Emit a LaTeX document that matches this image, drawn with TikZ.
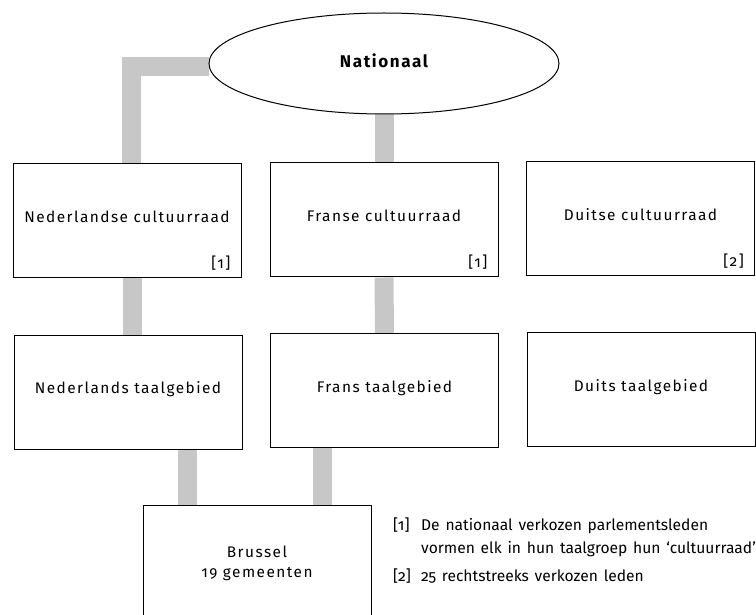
\documentclass[tikz,border=0pt]{standalone}
\usepackage{fontspec}
\setmainfont{Fira Sans}[Numbers=OldStyle]
\newfontfamily\boxfont{Fira Sans}[Numbers=OldStyle,LetterSpace=9.5]
\newfontfamily\footfont{Fira Sans}[Numbers=OldStyle,WordSpace=1.4]
\usetikzlibrary{positioning,shapes,backgrounds}

\begin{document}
\begin{tikzpicture}[x=1pt,y=-1pt,
            box/.style={draw,rectangle,fill=white,line width=1pt,minimum width=228,minimum height=114},
            nat/.style={draw,ellipse,fill=white,line width=1pt,minimum width=350,minimum height=101,text depth=5pt,font=\boxfont\bfseries\fontsize{17}{20}\selectfont},
            lab/.style={inner sep=0,anchor=base,font=\boxfont\fontsize{15.4}{18}\selectfont},
            note/.style={lab,anchor=east},
            foot/.style={inner sep=0,anchor=base west,font=\footfont\fontsize{15.6}{19}\selectfont},
            bar/.style={draw=black!22,line width=19pt}
          ]
          \useasboundingbox (0,0) rectangle (756,615);

          \node[nat] (nat) at (384,63.5) {Nationaal};

          \node[box] (ncr) at (127,221) {};
          \node[box] (fcr) at (384,220) {};
          \node[box] (dcr) at (640.5,219) {};
          \node[box] (ntg) at (128,392) {};
          \node[box] (ftg) at (384.5,390.5) {};
          \node[box] (dtg) at (641,389.5) {};
          \node[box] (bru) at (257,562) {};

          %labels
          \node[lab] at ([yshift=-1.5pt]ncr.center) {Nederlandse cultuurraad};
          \node[lab] at ([yshift=-1.5pt]fcr.center) {Franse cultuurraad};
          \node[lab] at ([yshift=-1.5pt]dcr.center) {Duitse cultuurraad};
          \node[note] at ([xshift=-11pt,yshift=15pt]ncr.south east) {[1]};
          \node[note] at ([xshift=-11pt,yshift=15pt]fcr.south east) {[1]};
          \node[note] at ([xshift=-11pt,yshift=15pt]dcr.south east) {[2]};
          \node[lab] at ([yshift=-1.5pt]ntg.center) {Nederlands taalgebied};
          \node[lab] at ([yshift=-1.5pt]ftg.center) {Frans taalgebied};
          \node[lab] at ([yshift=-1.5pt]dtg.center) {Duits taalgebied};
          \node[lab] at ([yshift=4.5pt]bru.center) {Brussel};
          \node[lab] at ([yshift=-15.5pt]bru.center) {19 gemeenten};

          %footnotes
          \node[foot] (f1) at (393,530) {[1]};
          \node[foot] (t1) at (421,530) {De nationaal verkozen parlementsleden};
          \node[foot] (t1b) at (421,553.3) {vormen elk in hun taalgroep hun ‘cultuurraad’};
          \node[foot] (f2) at (393,581.7) {[2]};
          \node[foot] (t2) at (421,581.7) {25 rechtstreeks verkozen leden};

          %bars
          \begin{pgfonlayer}{background}
            \coordinate (b1) at ([xshift=-70pt]bru.north);
            \coordinate (b2) at ([xshift=65pt]bru.north);
            \draw[bar] ([yshift=-3pt]nat.west) -| ([xshift=4.5pt]ncr.north);
            \draw[bar] (nat.south) -- (fcr.north);
            \draw[bar] ([xshift=5pt]ncr.south) -- ([xshift=4pt]ntg.north);
            \draw[bar] (fcr.south) -- (ftg.north);
            \draw[bar] (b1) -- (b1 |- ntg.south);
            \draw[bar] (b2) -- (b2 |- ftg.south);
          \end{pgfonlayer}
      \end{tikzpicture}
\end{document}
